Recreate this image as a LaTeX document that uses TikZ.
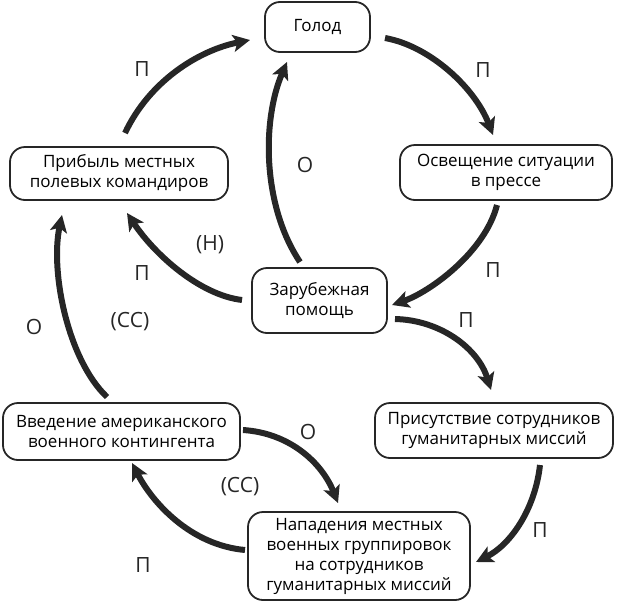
\documentclass[tikz,border=0pt]{standalone}
\usepackage{fontspec}
\setmainfont{Open Sans}
\usetikzlibrary{arrows.meta}
\definecolor{ink}{HTML}{262626}
\begin{document}
\begin{tikzpicture}[x=1pt,y=-1pt,
  box/.style={draw=ink,line width=1.8pt,rounded corners=15pt,align=center,
    inner sep=0pt,font=\fontsize{17}{20}\selectfont},
  flow/.style={draw=ink,line width=6pt,-{Stealth[length=17pt,width=17pt,inset=4pt]}},
  lab/.style={font=\fontsize{21}{24}\selectfont,text=ink}]
\path[use as bounding box] (0,0) rectangle (624,603);
% nodes
\node[box,minimum width=105pt,minimum height=50pt] (golod) at (317.5,27) {Голод};
\node[box,minimum width=212pt,minimum height=55pt] (press) at (506,172.5) {Освещение ситуации\\в прессе};
\node[box,minimum width=218pt,minimum height=53pt] (profit) at (119,173.5) {Прибыль местных\\полевых командиров};
\node[box,minimum width=135pt,minimum height=65pt] (aid) at (319.5,300.5) {Зарубежная\\помощь};
\node[box,minimum width=238pt,minimum height=55pt] (presence) at (494,430.5) {Присутствие сотрудников\\гуманитарных миссий};
\node[box,minimum width=237pt,minimum height=57pt] (troops) at (121.5,431.5) {Введение американского\\военного контингента};
\node[box,minimum width=222pt,minimum height=88pt] (attack) at (359,556) {Нападения местных\\военных группировок\\на сотрудников\\гуманитарных миссий};
% connector anchors
\coordinate (c1a) at (125,133); \coordinate (c1b) at (250,40);
\coordinate (c2a) at (385,38);  \coordinate (c2b) at (493,135);
\coordinate (c3a) at (497,205); \coordinate (c3b) at (392,305);
\coordinate (c4a) at (300,262); \coordinate (c4b) at (287,62);
\coordinate (c5a) at (242,300); \coordinate (c5b) at (127,213);
\coordinate (c6a) at (395,319); \coordinate (c6b) at (491,390);
\coordinate (c7a) at (540,465); \coordinate (c7b) at (476,562);
\coordinate (c8a) at (245,550); \coordinate (c8b) at (132,463);
\coordinate (c9a) at (107,397); \coordinate (c9b) at (62,215);
\coordinate (c10a) at (243,430); \coordinate (c10b) at (338,503);
% connectors
\draw[flow] (c1a) .. controls (150,80) and (200,50) .. (c1b);
\draw[flow] (c2a) .. controls (430,46) and (475,88) .. (c2b);
\draw[flow] (c3a) .. controls (485,252) and (430,292) .. (c3b);
\draw[flow] (c4a) .. controls (262,205) and (262,120) .. (c4b);
\draw[flow] (c5a) .. controls (200,295) and (155,255) .. (c5b);
\draw[flow] (c6a) .. controls (440,320) and (478,348) .. (c6b);
\draw[flow] (c7a) .. controls (535,510) and (510,545) .. (c7b);
\draw[flow] (c8a) .. controls (190,545) and (152,502) .. (c8b);
\draw[flow] (c9a) .. controls (68,360) and (50,272) .. (c9b);
\draw[flow] (c10a) .. controls (290,433) and (322,463) .. (c10b);
% labels
\node[lab] (l1) at (142,69) {П};
\node[lab] (l2) at (483,70) {П};
\node[lab] (l3) at (493,270) {П};
\node[lab] (l4) at (466,320) {П};
\node[lab] (l5) at (305,165) {О};
\node[lab] (l6) at (210,245) {(Н)};
\node[lab] (l7) at (142,273) {П};
\node[lab] (l8) at (130,322) {(СС)};
\node[lab] (l9) at (34,327) {О};
\node[lab] (l10) at (308,432) {О};
\node[lab] (l11) at (240,487) {(СС)};
\node[lab] (l12) at (540,530) {П};
\node[lab] (l13) at (143,565) {П};
\end{tikzpicture}
\end{document}
